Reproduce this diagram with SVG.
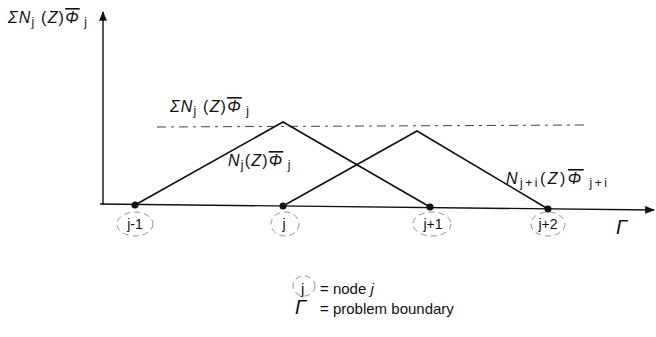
<svg xmlns="http://www.w3.org/2000/svg" width="656" height="337" viewBox="0 0 656 337">
<style>
.t{font-family:"Liberation Sans",Arial,sans-serif;fill:#111;}
.lb{letter-spacing:1.2px;}
.it{font-style:italic;}
.ov{text-decoration:overline;}
.ln{stroke:#111;stroke-width:1.6;fill:none;}
.ax{stroke:#111;stroke-width:1.4;fill:none;}
.dash{stroke:#444;stroke-width:1;fill:none;stroke-dasharray:9 5 3 5;}
.circ{stroke:#777;stroke-width:0.8;fill:none;stroke-dasharray:6 4;}
.dot{fill:#111;}
</style>
<defs>
<marker id="ah" viewBox="0 0 10 10" refX="9" refY="5" markerWidth="7" markerHeight="7" orient="auto">
<path d="M0,1 L10,5 L0,9 Z" fill="#111"/>
</marker>
</defs>
<rect width="656" height="337" fill="#fff"/>
<g id="connectors">
<line class="ax" x1="103" y1="205" x2="103" y2="12" marker-end="url(#ah)"/>
<line class="ax" x1="100" y1="204" x2="654" y2="210" marker-end="url(#ah)"/>
<line class="dash" x1="157" y1="127" x2="585" y2="125"/>
<polyline class="ln" points="135,205 283,122 430,207"/>
<polyline class="ln" points="283,206 417,131 548,209"/>
</g>
<g id="node-j-1">
<circle class="dot" cx="135" cy="205" r="3.5"/>
<ellipse class="circ" cx="135" cy="224" rx="18" ry="12"/>
<text class="t" x="135" y="229" font-size="14" text-anchor="middle">j-1</text>
</g>
<g id="node-j">
<circle class="dot" cx="283" cy="206" r="3.5"/>
<ellipse class="circ" cx="285" cy="224" rx="14" ry="12"/>
<text class="t" x="284" y="229" font-size="14" text-anchor="middle">j</text>
</g>
<g id="node-j+1">
<circle class="dot" cx="430" cy="207" r="3.5"/>
<ellipse class="circ" cx="432" cy="224" rx="19" ry="12"/>
<text class="t" x="433" y="229" font-size="14" text-anchor="middle">j+1</text>
</g>
<g id="node-j+2">
<circle class="dot" cx="548" cy="209" r="3.5"/>
<ellipse class="circ" cx="548" cy="224" rx="17" ry="12"/>
<text class="t" x="548" y="229" font-size="14" text-anchor="middle">j+2</text>
</g>
<g id="labels">
<text class="t lb" x="8" y="23" font-size="16"><tspan class="it">ΣN</tspan><tspan font-size="12" dy="3">j</tspan><tspan dy="-3"> (</tspan><tspan class="it">Z</tspan><tspan>)</tspan><tspan class="it ov">Φ</tspan><tspan font-size="12" dy="3"> j</tspan></text>
<text class="t lb" x="170" y="112" font-size="16"><tspan class="it">ΣN</tspan><tspan font-size="12" dy="3">j</tspan><tspan dy="-3"> (</tspan><tspan class="it">Z</tspan><tspan>)</tspan><tspan class="it ov">Φ</tspan><tspan font-size="12" dy="3"> j</tspan></text>
<text class="t lb" x="228" y="166" font-size="16"><tspan class="it">N</tspan><tspan font-size="12" dy="3">j</tspan><tspan dy="-3">(</tspan><tspan class="it">Z</tspan><tspan>)</tspan><tspan class="it ov">Φ</tspan><tspan font-size="12" dy="3"> j</tspan></text>
<text class="t" x="506" y="184" font-size="16" letter-spacing="2.5"><tspan class="it">N</tspan><tspan font-size="12" dy="3">j+i</tspan><tspan dy="-3">(</tspan><tspan class="it">Z</tspan><tspan>)</tspan><tspan class="it ov">Φ</tspan><tspan font-size="12" dy="3"> j+i</tspan></text>
<text class="t it" x="616" y="234" font-size="20">Γ</text>
</g>
<g id="legend">
<ellipse class="circ" cx="304" cy="286" rx="11" ry="10"/>
<text class="t" x="301" y="294" font-size="15">j</text>
<text class="t" x="320" y="294" font-size="15">= node <tspan class="it">j</tspan></text>
<text class="t it" x="295" y="314" font-size="20">Γ</text>
<text class="t" x="320" y="314" font-size="15">= problem boundary</text>
</g>
</svg>
